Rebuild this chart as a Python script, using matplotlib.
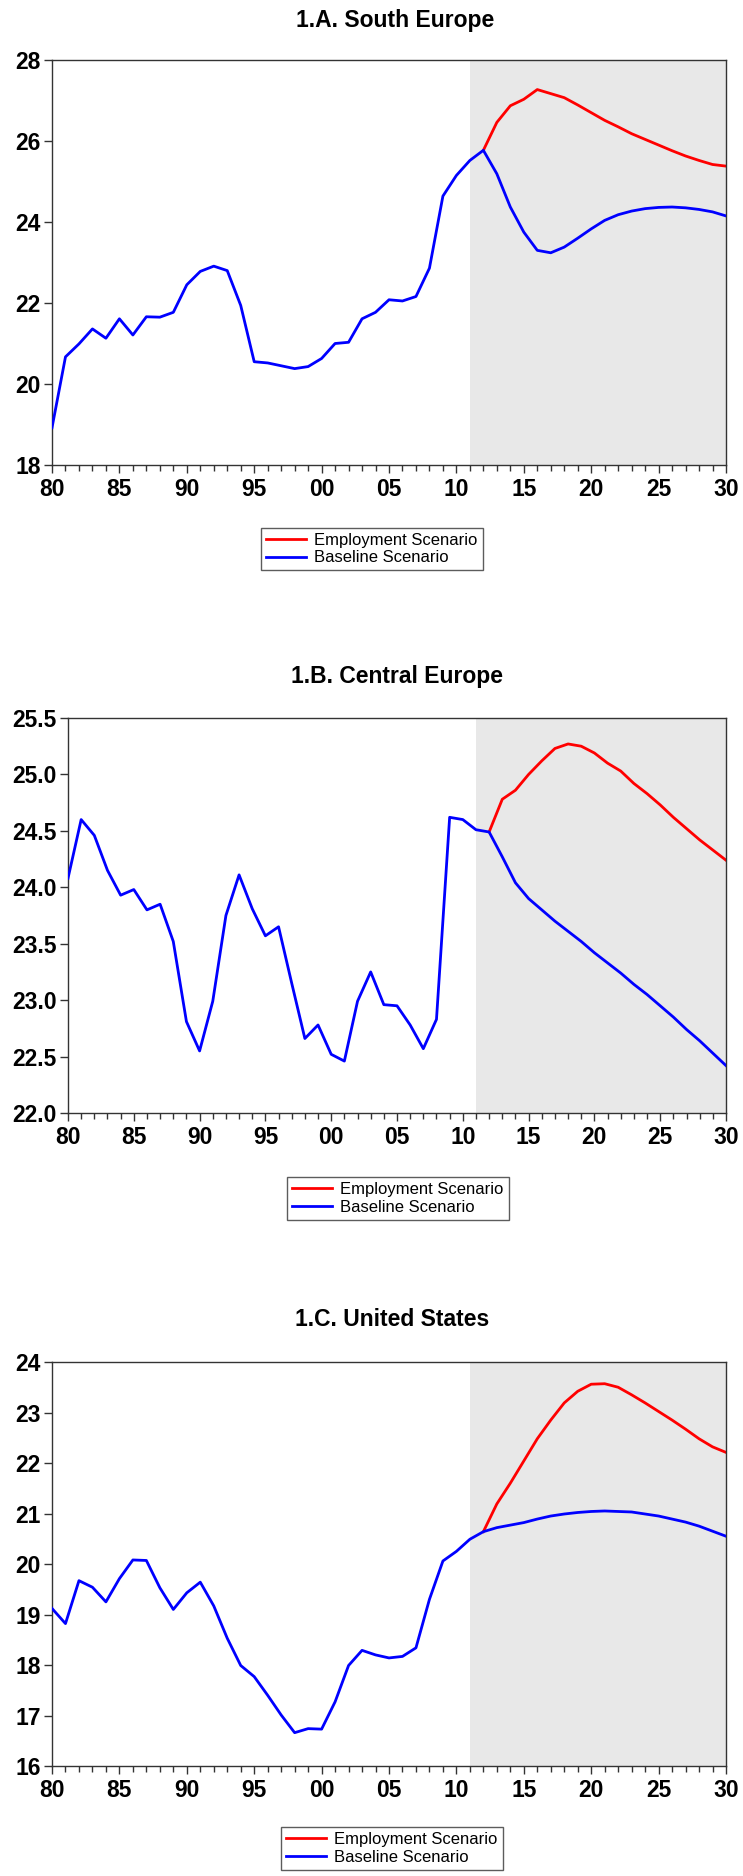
import numpy as np
import matplotlib
matplotlib.use('Agg')
import matplotlib.pyplot as plt
from matplotlib.ticker import MultipleLocator, FuncFormatter

plt.rcParams['font.family'] = ['Liberation Sans', 'DejaVu Sans']

years = np.arange(1980, 2031)
proj_years = np.arange(2012, 2031)

# 1.A South Europe
south_base = [18.92, 20.67, 20.99, 21.36, 21.13, 21.61, 21.21, 21.66, 21.65, 21.77,
              22.45, 22.78, 22.91, 22.80, 21.94, 20.55, 20.52, 20.45, 20.38, 20.43,
              20.63, 21.00, 21.03, 21.61, 21.77, 22.08, 22.05, 22.16, 22.86, 24.64,
              25.15, 25.52, 25.77, 25.19, 24.37, 23.75, 23.30, 23.24, 23.38, 23.60,
              23.83, 24.04, 24.18, 24.27, 24.33, 24.36, 24.37, 24.35, 24.31, 24.25,
              24.15]
south_emp = [25.77, 26.46, 26.87, 27.03, 27.27, 27.17, 27.07, 26.89, 26.70, 26.51,
             26.35, 26.18, 26.04, 25.90, 25.76, 25.63, 25.52, 25.42, 25.38]

# 1.B Central Europe
central_base = [24.08, 24.60, 24.46, 24.15, 23.93, 23.98, 23.80, 23.85, 23.52, 22.81,
                22.55, 22.99, 23.75, 24.11, 23.81, 23.57, 23.65, 23.15, 22.66, 22.78,
                22.52, 22.46, 22.99, 23.25, 22.96, 22.95, 22.78, 22.57, 22.83, 24.62,
                24.60, 24.51, 24.49, 24.27, 24.04, 23.90, 23.80, 23.70, 23.61, 23.52,
                23.42, 23.33, 23.24, 23.14, 23.05, 22.95, 22.85, 22.74, 22.64, 22.53,
                22.42]
central_emp = [24.49, 24.78, 24.86, 25.00, 25.12, 25.23, 25.27, 25.25, 25.19, 25.10,
               25.03, 24.92, 24.83, 24.73, 24.62, 24.52, 24.42, 24.33, 24.24]

# 1.C United States
us_base = [19.12, 18.82, 19.67, 19.54, 19.25, 19.71, 20.08, 20.07, 19.53, 19.10,
           19.43, 19.64, 19.17, 18.53, 17.99, 17.77, 17.40, 17.01, 16.66, 16.74,
           16.73, 17.27, 17.99, 18.29, 18.20, 18.14, 18.17, 18.34, 19.30, 20.06,
           20.25, 20.49, 20.64, 20.72, 20.77, 20.82, 20.89, 20.95, 20.99, 21.02,
           21.04, 21.05, 21.04, 21.03, 20.99, 20.95, 20.89, 20.83, 20.75, 20.65,
           20.55]
us_emp = [20.64, 21.19, 21.60, 22.04, 22.48, 22.85, 23.19, 23.42, 23.56, 23.57,
          23.50, 23.35, 23.19, 23.02, 22.85, 22.67, 22.48, 22.32, 22.21]

panels = [
    ('1.A. South Europe', south_base, south_emp, (18, 28), 2, '%d'),
    ('1.B. Central Europe', central_base, central_emp, (22, 25.5), 0.5, '%.1f'),
    ('1.C. United States', us_base, us_emp, (16, 24), 1, '%d'),
]

W, H = 743, 1876
fig = plt.figure(figsize=(W / 100, H / 100), dpi=100)

# axes boxes in pixels: left, top, right, bottom
boxes = [(52, 60, 726, 465), (68, 718, 726, 1113), (52, 1362, 726, 1766)]
titles = [(395, 20), (397, 676), (392, 1320)]
legend_pos = [(372, 528), (398, 1177), (392, 1827)]

for (title, base, emp, ylim, ystep, fmt), (l, t, r, b), (tx, ty), (lx, ly) in zip(
        panels, boxes, titles, legend_pos):
    ax = fig.add_axes([l / W, 1 - b / H, (r - l) / W, (b - t) / H])
    ax.axvspan(2011, 2030, color='#e8e8e8', lw=0, zorder=0)
    ax.plot(proj_years, emp, color='#ff0000', lw=2.0, label='Employment Scenario', zorder=2)
    ax.plot(years, base, color='#0000ff', lw=2.0, label='Baseline Scenario', zorder=3)
    ax.set_xlim(1980, 2030)
    ax.set_ylim(*ylim)
    ax.xaxis.set_major_locator(MultipleLocator(5))
    ax.xaxis.set_minor_locator(MultipleLocator(1))
    ax.xaxis.set_major_formatter(FuncFormatter(lambda v, p: '%02d' % (int(round(v)) % 100)))
    ax.yaxis.set_major_locator(MultipleLocator(ystep))
    ax.yaxis.set_major_formatter(FuncFormatter(lambda v, p, f=fmt: f % v))
    ax.tick_params(axis='both', which='major', labelsize=16.5, length=6, width=1,
                   direction='out', color='#333333')
    ax.tick_params(axis='x', which='minor', length=4, width=1, direction='out', color='#333333')
    ax.tick_params(axis='y', which='major', pad=2)
    ax.tick_params(axis='x', which='major', pad=3)
    for lab in ax.get_xticklabels() + ax.get_yticklabels():
        lab.set_fontweight('bold')
    for s in ax.spines.values():
        s.set_color('#333333')
        s.set_linewidth(1.0)
    fig.text(tx / W, 1 - ty / H, title, ha='center', va='center',
             fontsize=16.5, fontweight='bold')
    fig.legend(*ax.get_legend_handles_labels(), loc='upper center',
               bbox_to_anchor=(lx / W, 1 - ly / H), fontsize=12, frameon=True,
               fancybox=False, edgecolor='#333333', handlelength=2.4,
               borderpad=0.3, labelspacing=0.15, handletextpad=0.5,
               borderaxespad=0)

fig.savefig('out.png', dpi=100)
